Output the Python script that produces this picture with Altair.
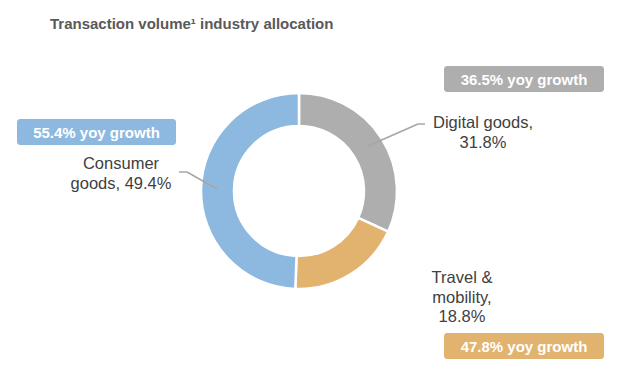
import altair as alt
import pandas as pd

# ---- data ----
categories = ["Digital goods", "Travel & mobility", "Consumer goods"]
shares = [31.8, 18.8, 49.4]
yoy_growth = [36.5, 47.8, 55.4]
colors = ["#AEAEAF", "#E2B36F", "#8DB9E0"]

title_text = "Transaction volume\u00b9 industry allocation"

# ---- layout (chart pixel coordinates, origin top-left of the 624x358 view) ----
W, H = 624, 358
OFF = 8
cx, cy = 299 - OFF, 191 - OFF
outer_r, inner_r = 98, 65

label_lines = [
    ["Digital goods,", "31.8%"],
    ["Travel &", "mobility,", "18.8%"],
    ["Consumer", "goods, 49.4%"],
]
label_pos = [(483, 123), (462, 278), (121, 164)]  # screen coords of first line center
line_step = 19.5

box_pos = [(444, 66, 604, 92), (444, 333, 604, 359), (17, 119, 176, 145)]

leaders = [
    [(425, 124), (418, 124), (368, 146)],
    [],
    [(179, 172), (187, 172), (217, 189)],
]

# ---- tables ----
pie_df = pd.DataFrame({
    "category": categories,
    "share": shares,
    "order": list(range(len(categories))),
})

lab_rows = []
for cat, lines, (lx, ly) in zip(categories, label_lines, label_pos):
    for i, t in enumerate(lines):
        lab_rows.append({"x": lx - OFF, "y": ly - OFF + i * line_step, "text": t})
lab_df = pd.DataFrame(lab_rows)

box_rows = []
for cat, g, col, (x1, y1, x2, y2) in zip(categories, yoy_growth, colors, box_pos):
    box_rows.append({
        "category": cat,
        "x1": x1 - OFF, "y1": y1 - OFF, "x2": x2 - OFF, "y2": y2 - OFF,
        "xc": (x1 + x2) / 2 - OFF, "yc": (y1 + y2) / 2 - OFF + 0.5,
        "text": f"{g}% yoy growth",
    })
box_df = pd.DataFrame(box_rows)

seg_rows = []
for cat, pts in zip(categories, leaders):
    for (ax, ay), (bx, by) in zip(pts[:-1], pts[1:]):
        seg_rows.append({"x": ax - OFF, "y": ay - OFF, "x2": bx - OFF, "y2": by - OFF})
seg_df = pd.DataFrame(seg_rows)

title_df = pd.DataFrame({"x": [50 - OFF], "y": [24 - OFF], "text": [title_text]})

xs = alt.Scale(domain=[0, W], range=[0, W], nice=False, zero=False)
ys = alt.Scale(domain=[0, H], range=[0, H], nice=False, zero=False)
color_scale = alt.Scale(domain=categories, range=colors)

donut = alt.Chart(pie_df).mark_arc(
    outerRadius=outer_r, innerRadius=inner_r, stroke="white", strokeWidth=2.5
).encode(
    theta=alt.Theta("share:Q", stack=True),
    color=alt.Color("category:N", scale=color_scale, legend=None),
    order=alt.Order("order:Q"),
    x=alt.value(cx),
    y=alt.value(cy),
)

boxes = alt.Chart(box_df).mark_rect(cornerRadius=3).encode(
    x=alt.X("x1:Q", scale=xs, axis=None),
    x2="x2:Q",
    y=alt.Y("y1:Q", scale=ys, axis=None),
    y2="y2:Q",
    color=alt.Color("category:N", scale=color_scale, legend=None),
)

box_text = alt.Chart(box_df).mark_text(
    font="Liberation Sans", fontSize=15, fontWeight="bold", color="white",
    align="center", baseline="middle"
).encode(
    x=alt.X("xc:Q", scale=xs, axis=None),
    y=alt.Y("yc:Q", scale=ys, axis=None),
    text="text:N",
)

labels = alt.Chart(lab_df).mark_text(
    font="Liberation Sans", fontSize=16.5, color="#404040",
    align="center", baseline="middle"
).encode(
    x=alt.X("x:Q", scale=xs, axis=None),
    y=alt.Y("y:Q", scale=ys, axis=None),
    text="text:N",
)

lead = alt.Chart(seg_df).mark_rule(color="#A6A6A6", strokeWidth=1.5).encode(
    x=alt.X("x:Q", scale=xs, axis=None),
    y=alt.Y("y:Q", scale=ys, axis=None),
    x2="x2:Q",
    y2="y2:Q",
)

title = alt.Chart(title_df).mark_text(
    font="Liberation Sans", fontSize=15, fontWeight="bold", color="#595959",
    align="left", baseline="middle"
).encode(
    x=alt.X("x:Q", scale=xs, axis=None),
    y=alt.Y("y:Q", scale=ys, axis=None),
    text="text:N",
)

chart = alt.layer(donut, lead, boxes, box_text, labels, title).properties(
    width=W, height=H, padding=0, autosize=alt.AutoSizeParams(type="none"),
    background="white",
).configure_view(stroke=None)

chart.save("out.html", embed_options={"renderer": "svg", "actions": False})
